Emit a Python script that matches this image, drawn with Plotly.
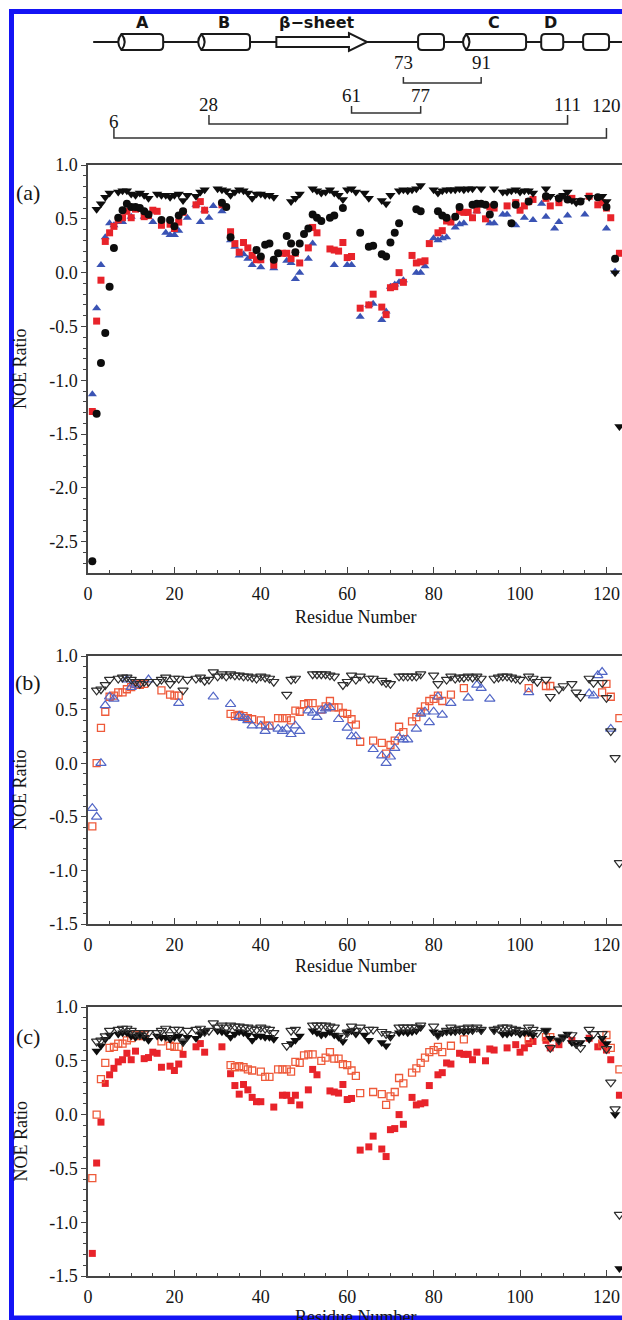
import plotly.graph_objects as go

# ---------------- data ----------------
# panel (a): black filled circles
CIRC_RES = [1,2,3,4,5,6,7,8,9,10,11,12,13,14,17,19,20,21,22,31,32,33,39,40,41,42,43,44,46,47,48,49,50,51,52,53,54,56,57,59,63,65,66,68,69,70,71,72,76,77,81,82,83,85,86,89,90,91,92,93,94,98,99,102,106,109,111,114,118,120,122]
CIRC_VAL = [-2.68,-1.31,-0.84,-0.56,-0.13,0.23,0.51,0.58,0.64,0.61,0.61,0.60,0.57,0.54,0.49,0.49,0.43,0.53,0.57,0.65,0.61,0.33,0.21,0.15,0.26,0.27,0.12,0.18,0.34,0.27,0.19,0.27,0.36,0.41,0.54,0.51,0.48,0.51,0.53,0.60,0.37,0.24,0.25,0.17,0.15,0.28,0.37,0.46,0.59,0.57,0.57,0.53,0.51,0.52,0.61,0.63,0.64,0.64,0.63,0.54,0.63,0.46,0.63,0.66,0.71,0.69,0.68,0.66,0.70,0.61,0.13]

# red filled squares (panels a and c)
SQ_RES = [1,2,3,4,5,6,7,8,9,10,11,13,14,15,16,17,19,20,21,22,25,26,27,31,33,34,35,36,37,38,39,40,43,45,46,47,48,49,51,52,53,56,57,58,59,60,61,63,65,66,68,69,70,71,72,73,75,76,77,78,79,81,82,83,84,86,87,88,89,90,92,93,94,97,99,100,101,102,103,106,107,109,112,116,118,119,120,121,123]
SQ_VAL = [-1.29,-0.45,-0.07,0.29,0.37,0.43,0.49,0.51,0.57,0.51,0.59,0.52,0.53,0.58,0.57,0.44,0.45,0.41,0.47,0.56,0.63,0.66,0.58,0.63,0.38,0.27,0.19,0.28,0.23,0.16,0.12,0.12,0.07,0.18,0.18,0.13,0.18,0.09,0.23,0.42,0.37,0.22,0.21,0.20,0.28,0.14,0.15,-0.33,-0.30,-0.20,-0.32,-0.39,-0.14,-0.13,0.00,-0.09,0.16,0.09,0.10,0.11,0.27,0.37,0.39,0.48,0.47,0.57,0.56,0.56,0.51,0.58,0.50,0.61,0.60,0.62,0.65,0.58,0.62,0.66,0.68,0.69,0.62,0.65,0.69,0.71,0.63,0.65,0.60,0.51,0.18]

# blue filled up-triangles (panel a)
TU_RES = [1,2,3,4,5,6,7,8,10,13,15,18,19,20,21,23,25,26,27,28,29,31,33,34,35,36,37,38,40,43,46,47,48,49,51,52,57,60,61,63,65,66,68,69,70,71,72,73,76,77,78,80,81,82,83,85,86,87,90,93,94,96,97,99,101,103,105,106,108,109,111,115,120,122]
TU_VAL = [-1.13,-0.33,0.07,0.33,0.46,0.44,0.47,0.47,0.52,0.52,0.47,0.37,0.35,0.35,0.39,0.51,0.63,0.47,0.58,0.51,0.62,0.57,0.30,0.24,0.16,0.17,0.13,0.07,0.05,0.04,0.11,0.09,-0.06,0.00,0.13,0.27,0.07,0.07,0.07,-0.41,-0.30,-0.29,-0.44,-0.36,-0.13,-0.11,-0.09,-0.07,0.00,0.00,0.06,0.32,0.30,0.32,0.33,0.42,0.45,0.46,0.57,0.46,0.46,0.54,0.54,0.44,0.51,0.49,0.64,0.52,0.41,0.47,0.53,0.54,0.41,0.01]

# black filled down-triangles (panels a and c)
TD_RES = [2,3,4,5,7,8,9,10,11,12,13,14,16,17,18,19,20,21,22,23,25,26,27,30,31,32,33,34,35,36,37,38,39,40,41,42,43,47,48,49,52,53,54,55,56,57,58,59,60,61,62,64,65,68,69,70,72,73,74,75,76,77,80,81,82,83,84,85,86,87,88,89,91,94,96,97,98,99,100,101,102,103,106,107,109,110,111,112,113,114,116,119,120,122,123]
TD_VAL = [0.59,0.64,0.70,0.74,0.75,0.76,0.76,0.73,0.72,0.74,0.72,0.69,0.73,0.72,0.72,0.70,0.72,0.73,0.67,0.72,0.71,0.75,0.77,0.78,0.77,0.76,0.72,0.75,0.77,0.76,0.74,0.69,0.73,0.73,0.72,0.72,0.70,0.66,0.69,0.73,0.78,0.76,0.74,0.75,0.77,0.74,0.72,0.68,0.77,0.78,0.75,0.74,0.69,0.67,0.64,0.72,0.76,0.77,0.76,0.77,0.78,0.81,0.77,0.74,0.76,0.77,0.77,0.77,0.78,0.77,0.78,0.78,0.78,0.78,0.75,0.75,0.76,0.77,0.75,0.76,0.76,0.74,0.78,0.71,0.69,0.72,0.75,0.67,0.65,0.67,0.70,0.71,0.66,0.00,-1.43]

# red open squares (panels b and c)
OSQ_RES = [1,2,3,4,5,6,7,8,9,10,11,12,13,17,19,20,21,33,34,35,36,37,38,40,41,42,44,45,46,47,48,49,50,51,52,54,55,56,57,58,59,60,61,62,63,66,68,69,70,71,72,73,75,76,77,78,79,80,81,82,84,87,102,106,107,119,120,121,123]
OSQ_VAL = [-0.59,0.00,0.33,0.48,0.62,0.63,0.66,0.66,0.69,0.71,0.74,0.73,0.74,0.68,0.64,0.63,0.63,0.46,0.44,0.45,0.44,0.42,0.41,0.40,0.35,0.35,0.42,0.42,0.42,0.40,0.49,0.48,0.55,0.56,0.56,0.50,0.53,0.58,0.52,0.52,0.47,0.46,0.41,0.36,0.20,0.21,0.19,0.09,0.17,0.21,0.34,0.29,0.39,0.43,0.48,0.53,0.58,0.60,0.63,0.58,0.64,0.70,0.70,0.72,0.72,0.66,0.74,0.62,0.42]

# blue open up-triangles (panel b)
OTU_RES = [1,2,3,4,5,6,9,10,11,14,21,29,33,35,36,37,38,40,41,42,44,45,46,47,48,49,51,52,53,54,55,56,58,60,61,62,66,68,69,70,71,72,73,74,76,77,78,79,80,81,82,84,88,90,91,93,102,116,117,118,119,121]
OTU_VAL = [-0.42,-0.50,0.00,0.54,0.62,0.60,0.78,0.71,0.73,0.78,0.56,0.62,0.55,0.44,0.42,0.40,0.35,0.35,0.30,0.34,0.32,0.30,0.32,0.27,0.35,0.30,0.49,0.47,0.43,0.49,0.51,0.52,0.41,0.33,0.25,0.25,0.13,0.07,0.00,0.06,0.14,0.24,0.22,0.22,0.32,0.46,0.48,0.38,0.48,0.62,0.45,0.56,0.61,0.73,0.70,0.60,0.66,0.65,0.63,0.82,0.85,0.32]

# black open down-triangles (panels b and c)
OTD_RES = [2,3,4,5,7,8,9,10,11,12,13,14,16,17,18,19,20,21,22,23,25,26,27,28,29,30,31,32,33,34,35,36,37,38,39,40,41,42,43,46,47,48,52,53,54,55,56,57,59,60,61,62,63,65,66,68,69,70,72,73,74,75,76,77,80,81,83,84,85,86,87,88,89,90,91,94,95,96,97,98,99,100,102,103,104,106,107,109,110,112,113,114,116,117,119,120,121,122,123]
OTD_VAL = [0.68,0.69,0.73,0.78,0.79,0.80,0.80,0.78,0.76,0.74,0.76,0.76,0.76,0.78,0.80,0.74,0.79,0.79,0.68,0.78,0.79,0.80,0.77,0.78,0.85,0.81,0.83,0.81,0.83,0.82,0.82,0.81,0.81,0.80,0.79,0.81,0.80,0.79,0.76,0.64,0.78,0.79,0.83,0.83,0.83,0.83,0.82,0.81,0.73,0.76,0.82,0.78,0.81,0.79,0.79,0.77,0.75,0.74,0.81,0.81,0.81,0.81,0.81,0.83,0.82,0.74,0.78,0.81,0.79,0.80,0.80,0.81,0.80,0.81,0.79,0.79,0.80,0.81,0.81,0.80,0.79,0.78,0.81,0.79,0.76,0.78,0.62,0.69,0.72,0.74,0.66,0.62,0.79,0.75,0.75,0.61,0.30,0.05,-0.93]

# tick labels
X_TICKS = [0, 20, 40, 60, 80, 100, 120]
X_TICK_TEXT = ["0", "20", "40", "60", "80", "100", "120"]
Y_TICKS_A = [1.0, 0.5, 0.0, -0.5, -1.0, -1.5, -2.0, -2.5]
Y_TICK_TEXT_A = ["1.0", "0.5", "0.0", "-0.5", "-1.0", "-1.5", "-2.0", "-2.5"]
Y_TICKS_BC = [1.0, 0.5, 0.0, -0.5, -1.0, -1.5]
Y_TICK_TEXT_BC = ["1.0", "0.5", "0.0", "-0.5", "-1.0", "-1.5"]

# secondary-structure topology (residue spans) and disulfide bonds
CYLINDERS = [(7.0, 17.4), (25.5, 37.5), (86.8, 101.4)]
BOXES = [(76.4, 82.4), (104.9, 110.0), (114.6, 120.6)]
SHEET = (43.6, 64.6)
SS_LABELS = ["A", "B", "β−sheet", "C", "D"]
SS_LABEL_RES = [12.7, 31.5, 53.0, 94.0, 107.0]
SS_BONDS = [(6, 120), (28, 111), (61, 77), (73, 91)]

# ---------------- layout constants ----------------
FIG_W, FIG_H = 622, 1320
X_LEFT = 88 / FIG_W
X_MAX = 123.6
SERIF = "Liberation Serif"
AX = "#454545"
TXT = "#151515"
RED = "#e8232a"
RED_OPEN = "#ee5a3a"
BLUE = "#3a53b4"
BLUE_OPEN = "#5266c6"
BLACK = "#0d0d0d"


def paper_y(px):
    return 1 - px / FIG_H


fig = go.Figure()

STY = {
    "circ": dict(symbol="circle", size=8, color=BLACK),
    "sq": dict(symbol="square", size=7, color=RED),
    "tu": dict(symbol="triangle-up", size=8, color=BLUE),
    "td": dict(symbol="triangle-down", size=9, color=BLACK),
    "osq": dict(symbol="square-open", size=7, color=RED_OPEN, line=dict(width=1.3, color=RED_OPEN)),
    "otu": dict(symbol="triangle-up-open", size=9, color=BLUE_OPEN, line=dict(width=1.2, color=BLUE_OPEN)),
    "otd": dict(symbol="triangle-down-open", size=9, color="#2d2d2d", line=dict(width=1.2, color="#2d2d2d")),
}
SERIES = {
    "circ": (CIRC_RES, CIRC_VAL), "sq": (SQ_RES, SQ_VAL), "tu": (TU_RES, TU_VAL),
    "td": (TD_RES, TD_VAL), "osq": (OSQ_RES, OSQ_VAL), "otu": (OTU_RES, OTU_VAL),
    "otd": (OTD_RES, OTD_VAL),
}
PANELS = [
    ("x", "y", ["tu", "sq", "circ", "td"]),
    ("x2", "y2", ["osq", "otu", "otd"]),
    ("x3", "y3", ["sq", "osq", "td", "otd"]),
]
for xa, ya, keys in PANELS:
    for k in keys:
        xs, ys = SERIES[k]
        fig.add_trace(go.Scatter(x=xs, y=ys, mode="markers", marker=STY[k],
                                 xaxis=xa, yaxis=ya, showlegend=False, hoverinfo="skip"))


def xaxis_style(anchor):
    return dict(domain=[X_LEFT, 1], range=[0, X_MAX], anchor=anchor, automargin=False,
                showline=True, linecolor=AX, linewidth=1.5, mirror=True,
                ticks="inside", ticklen=6, tickwidth=1.3, tickcolor=AX,
                tickvals=X_TICKS, ticktext=X_TICK_TEXT,
                tickfont=dict(family=SERIF, size=18, color=TXT),
                minor=dict(dtick=5, ticks="inside", ticklen=3, tickwidth=1, tickcolor=AX),
                showgrid=False, zeroline=False, ticklabelstandoff=4)


def yaxis_style(anchor, dom, rng, tv, tt):
    return dict(domain=dom, range=rng, anchor=anchor, automargin=False,
                showline=True, linecolor=AX, linewidth=1.5, mirror=False,
                ticks="outside", ticklen=5, tickwidth=1.3, tickcolor=AX,
                tickvals=tv, ticktext=tt,
                tickfont=dict(family=SERIF, size=18, color=TXT),
                minor=dict(dtick=0.1, ticks="outside", ticklen=3, tickwidth=1, tickcolor=AX),
                showgrid=False, zeroline=False)


DOM_A = [paper_y(573), paper_y(165)]
DOM_B = [paper_y(924), paper_y(656)]
DOM_C = [paper_y(1276), paper_y(1007)]

fig.update_layout(
    template="none",
    width=FIG_W, height=FIG_H, margin=dict(l=0, r=0, t=0, b=0, pad=0), autosize=False,
    paper_bgcolor="white", plot_bgcolor="rgba(0,0,0,0)", showlegend=False,
    xaxis=xaxis_style("y"),
    yaxis=yaxis_style("x", DOM_A, [-2.79, 1.0], Y_TICKS_A, Y_TICK_TEXT_A),
    xaxis2=xaxis_style("y2"),
    yaxis2=yaxis_style("x2", DOM_B, [-1.5, 1.0], Y_TICKS_BC, Y_TICK_TEXT_BC),
    xaxis3=xaxis_style("y3"),
    yaxis3=yaxis_style("x3", DOM_C, [-1.5, 1.0], Y_TICKS_BC, Y_TICK_TEXT_BC),
    xaxis4=dict(domain=[X_LEFT, 1], range=[0, X_MAX], anchor="y4", visible=False, automargin=False),
    yaxis4=dict(domain=[paper_y(150), 1], range=[150, 0], anchor="x4", visible=False, automargin=False),
)

# ---------------- annotations: titles & panel letters ----------------
ann = []
for dom, lab, lab_px, xt_px in [(DOM_A, "(a)", 192, 617), (DOM_B, "(b)", 682, 966), (DOM_C, "(c)", 1036, 1317)]:
    ann.append(dict(text="NOE Ratio", x=20 / FIG_W, y=(dom[0] + dom[1]) / 2, xref="paper", yref="paper",
                    textangle=-90, showarrow=False, xanchor="center", yanchor="middle",
                    font=dict(family=SERIF, size=18, color=TXT)))
    ann.append(dict(text="Residue Number", x=355 / FIG_W, y=paper_y(xt_px), xref="paper", yref="paper",
                    showarrow=False, xanchor="center", yanchor="middle",
                    font=dict(family=SERIF, size=18, color=TXT)))
    ann.append(dict(text=lab, x=28 / FIG_W, y=paper_y(lab_px), xref="paper", yref="paper",
                    showarrow=False, xanchor="center", yanchor="middle",
                    font=dict(family=SERIF, size=22, color=TXT)))

# ---------------- topology diagram ----------------
shapes = []
LINE = dict(color="#1a1a1a", width=2)
Y0, Y1, YM = 34, 50, 42
EX, RR, RY = 0.75, 0.9, 4

shapes.append(dict(type="line", xref="x4", yref="y4", x0=1.2, x1=140, y0=YM, y1=YM, line=LINE))


def box_path(a, b):
    return (f"M{a+RR},{Y0} L{b-RR},{Y0} Q{b},{Y0} {b},{Y0+RY} L{b},{Y1-RY} Q{b},{Y1} {b-RR},{Y1} "
            f"L{a+RR},{Y1} Q{a},{Y1} {a},{Y1-RY} L{a},{Y0+RY} Q{a},{Y0} {a+RR},{Y0} Z")


def cyl_path(a, b):
    return (f"M{a+EX},{Y0} L{b-RR},{Y0} Q{b},{Y0} {b},{Y0+RY} L{b},{Y1-RY} Q{b},{Y1} {b-RR},{Y1} "
            f"L{a+EX},{Y1} Q{a-EX},{YM} {a+EX},{Y0} Z")


for a, b in CYLINDERS:
    shapes.append(dict(type="path", xref="x4", yref="y4", path=cyl_path(a, b), line=LINE, fillcolor="white"))
    shapes.append(dict(type="path", xref="x4", yref="y4",
                       path=f"M{a+EX},{Y0} Q{a+3*EX},{YM} {a+EX},{Y1}", line=LINE))
for a, b in BOXES:
    shapes.append(dict(type="path", xref="x4", yref="y4", path=box_path(a, b), line=LINE, fillcolor="white"))

sa, sb = SHEET
head = sb - 4.2
shapes.append(dict(type="path", xref="x4", yref="y4",
                   path=f"M{sa},37 L{head},37 L{head},33 L{sb},{YM} L{head},51 L{head},47 L{sa},47 Z",
                   line=LINE, fillcolor="white"))

for lab, r in zip(SS_LABELS, SS_LABEL_RES):
    ann.append(dict(text=f"<b>{lab}</b>", x=r, y=22, xref="x4", yref="y4", showarrow=False,
                    xanchor="center", yanchor="middle",
                    font=dict(family="DejaVu Sans", size=16, color=TXT)))

BR_LINE_Y = [138, 124, 113, 83]
BR_TICK = [10, 9, 7, 6]
BR_LABEL_Y = [(121, 105), (104, 104), (95, 95), (62, 62)]
for (a, b), yl, tk, (la, lb) in zip(SS_BONDS, BR_LINE_Y, BR_TICK, BR_LABEL_Y):
    shapes.append(dict(type="path", xref="x4", yref="y4",
                       path=f"M{a},{yl-tk} L{a},{yl} L{b},{yl} L{b},{yl-tk}",
                       line=dict(color="#333333", width=1.5)))
    for num, ly in ((a, la), (b, lb)):
        ann.append(dict(text=str(num), x=num, y=ly, xref="x4", yref="y4", showarrow=False,
                        xanchor="center", yanchor="middle",
                        font=dict(family=SERIF, size=19, color=TXT)))

# blue selection frame around the figure
shapes.append(dict(type="rect", xref="paper", yref="paper",
                   x0=11.5 / FIG_W, x1=1.2, y0=paper_y(1318), y1=paper_y(11.5),
                   line=dict(color="#1414f5", width=5), fillcolor="rgba(0,0,0,0)", layer="above"))

fig.update_layout(shapes=shapes, annotations=ann)

# remove the browser's default page margin so the figure sits at the window origin
PAGE_JS = ("document.body.style.margin='0';document.body.style.padding='0';"
           "document.documentElement.style.overflow='hidden';document.body.style.overflow='hidden';")
fig.write_html("out.html", post_script=PAGE_JS, config={"displayModeBar": False})
